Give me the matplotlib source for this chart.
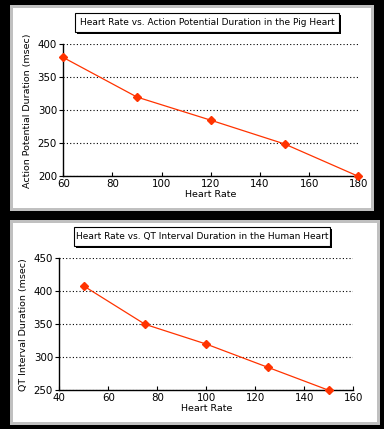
import matplotlib
matplotlib.use("Agg")
import matplotlib.pyplot as plt
from matplotlib.patches import Rectangle

W, H = 384, 429

# pig heart data
pig_rate = [60, 90, 120, 150, 180]
pig_apd = [380, 320, 285, 249, 200]
pig_title = "Heart Rate vs. Action Potential Duration in the Pig Heart"
pig_ylabel = "Action Potential Duration (msec)"

# human heart data
hum_rate = [50, 75, 100, 125, 150]
hum_qt = [408, 350, 320, 285, 250]
hum_title = "Heart Rate vs. QT Interval Duration in the Human Heart"
hum_ylabel = "QT Interval Duration (msec)"

RED = "#ff3300"
GRAY = "#c0c0c0"
FS = 6.6

fig = plt.figure(figsize=(W / 100, H / 100), dpi=100, facecolor="black")


def px_rect(x0, y0, x1, y1, z=-5, **kw):
    # rectangle given in pixel coords (top-left origin)
    r = Rectangle((x0 / W, 1 - y1 / H), (x1 - x0) / W, (y1 - y0) / H,
                  transform=fig.transFigure, zorder=z, **kw)
    fig.patches.append(r)


def px_axes(x0, y0, x1, y1):
    return fig.add_axes([x0 / W, 1 - y1 / H, (x1 - x0) / W, (y1 - y0) / H])


def panel(box, title_box, ax_box, x, y, xlim, ylim, xticks, yticks, title, ylabel):
    bx0, by0, bx1, by1 = box
    px_rect(bx0, by0, bx1, by1, facecolor=GRAY, edgecolor="none", z=-10)
    px_rect(bx0 + 3, by0 + 3, bx1 - 3, by1 - 3, facecolor="white", edgecolor="none", z=-9)
    tx0, ty0, tx1, ty1 = title_box
    px_rect(tx0 + 2, ty0 + 2, tx1 + 2, ty1 + 2, facecolor="black", edgecolor="none", z=5)
    px_rect(tx0, ty0, tx1, ty1, facecolor="white", edgecolor="black", linewidth=0.8, z=6)
    fig.text((tx0 + tx1) / 2 / W, 1 - (ty0 + ty1) / 2 / H, title,
             ha="center", va="center", fontsize=6.5, zorder=7)

    ax = px_axes(*ax_box)
    ax.set_facecolor("none")
    ax.plot(x, y, color=RED, linewidth=0.9, marker="D", markersize=4.5,
            markeredgecolor=RED, clip_on=False, zorder=3)
    ax.set_xlim(*xlim)
    ax.set_ylim(*ylim)
    ax.set_xticks(xticks)
    ax.set_yticks(yticks)
    for s in ["top", "right"]:
        ax.spines[s].set_visible(False)
    for s in ["left", "bottom"]:
        ax.spines[s].set_linewidth(1)
    ax.yaxis.grid(True, linestyle=(0, (1, 2)), color="black", linewidth=0.8)
    ax.set_axisbelow(True)
    ax.tick_params(axis="x", direction="in", length=3, labelsize=FS + 0.8, pad=2)
    ax.tick_params(axis="y", direction="out", length=3, labelsize=FS + 0.8, pad=1.5)
    ax.set_xlabel("Heart Rate", fontsize=FS + 0.2, labelpad=1)
    ax.set_ylabel(ylabel, fontsize=FS + 0.2, labelpad=4)
    return ax


panel((10, 5, 374, 211), (75, 13, 339, 32), (63.3, 44.3, 358.3, 176.3),
      pig_rate, pig_apd, (60, 180), (200, 400),
      [60, 80, 100, 120, 140, 160, 180], [200, 250, 300, 350, 400],
      pig_title, pig_ylabel)

panel((10, 220, 380, 425), (74, 227, 330, 246), (59.3, 258.3, 353.3, 390.3),
      hum_rate, hum_qt, (40, 160), (250, 450),
      [40, 60, 80, 100, 120, 140, 160], [250, 300, 350, 400, 450],
      hum_title, hum_ylabel)

fig.savefig("out.png", dpi=100, facecolor="black")
